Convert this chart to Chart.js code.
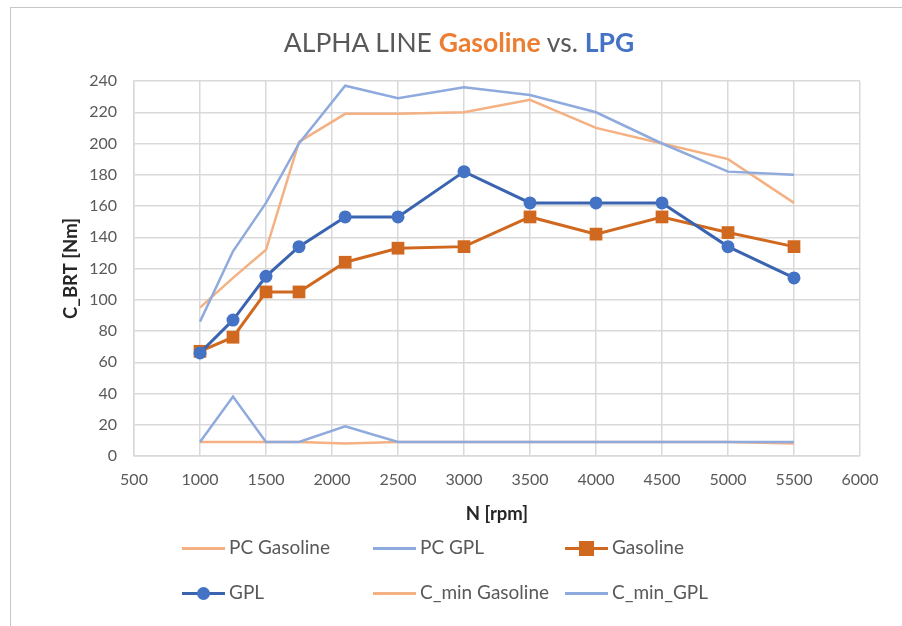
<!DOCTYPE html>
<html>
<head>
<meta charset="utf-8">
<script src="https://cdn.jsdelivr.net/npm/chart.js@4.4.1/dist/chart.umd.min.js"></script>
<style>
  body { margin: 0; background: #fff; font-family: Lato, Calibri, sans-serif; }
  #wrap { position: relative; width: 902px; height: 626px; overflow: hidden; }
  #frame { position: absolute; left: 10px; top: 7px; width: 1000px; height: 700px;
           border-left: 1px solid #c8c8c8; border-top: 1px solid #c8c8c8; }
  #chart { position: absolute; left: 0; top: 0; }
  #title { position: absolute; left: 0; width: 918px; top: 26px; text-align: center;
           font-size: 26.5px; color: #595959; }
  #title .gas { color: #ED7D31; font-weight: bold; }
  #title .lpg { color: #4472C4; font-weight: bold; }
  .leg { position: absolute; height: 22px; font-size: 19px; color: #595959; white-space: nowrap; }
  .leg .line { position: absolute; left: 0; top: 10px; width: 43px; height: 3px; }
  .leg .mark { position: absolute; }
  .leg .txt { position: absolute; left: 47px; top: -1px; line-height: 22px; }
</style>
</head>
<body>
<div id="wrap">
  <div id="frame"></div>
  <canvas id="chart" width="902" height="626"></canvas>
  <div id="title">ALPHA LINE <span class="gas">Gasoline</span> vs. <span class="lpg">LPG</span></div>
  <div id="legend"></div>
</div>
<script>
// engine speed points (rpm)
const rpm = [1000, 1250, 1500, 1750, 2100, 2500, 3000, 3500, 4000, 4500, 5000, 5500];

// torque values [Nm]
const pcGasoline   = [95, 114, 132, 201, 219, 219, 220, 228, 210, 200, 190, 162];
const pcGpl        = [86, 131, 162, 200, 237, 229, 236, 231, 220, 200, 182, 180];
const gasoline     = [67, 76, 105, 105, 124, 133, 134, 153, 142, 153, 143, 134];
const gpl          = [66, 87, 115, 134, 153, 153, 182, 162, 162, 162, 134, 114];
const cminGasoline = [9, 9, 9, 9, 8, 9, 9, 9, 9, 9, 9, 8];
const cminGpl      = [9, 38, 9, 9, 19, 9, 9, 9, 9, 9, 9, 9];

const seriesNames = ['PC Gasoline', 'PC GPL', 'Gasoline', 'GPL', 'C_min Gasoline', 'C_min_GPL'];
const xTicks = [500, 6000, 500]; // min, max, step
const yTicks = [0, 240, 20];

const toPoints = vals => rpm.map((x, i) => ({ x: x, y: vals[i] }));

const styles = [
  { color: '#F4B183', width: 2.5, marker: null },
  { color: '#8FAADC', width: 2.5, marker: null },
  { color: '#D0691F', width: 3, marker: 'rect', markColor: '#D0691F', r: 9 },
  { color: '#3A64B0', width: 3, marker: 'circle', markColor: '#4472C4', r: 6.5 },
  { color: '#F4B183', width: 2.5, marker: null },
  { color: '#8FAADC', width: 2.5, marker: null }
];
const allValues = [pcGasoline, pcGpl, gasoline, gpl, cminGasoline, cminGpl];

const datasets = allValues.map((vals, i) => {
  const s = styles[i];
  return {
    label: seriesNames[i],
    data: toPoints(vals),
    borderColor: s.color,
    borderWidth: s.width,
    backgroundColor: s.markColor || s.color,
    pointStyle: s.marker || 'circle',
    pointRadius: s.marker ? s.r : 0,
    pointBorderWidth: 0,
    pointBackgroundColor: s.markColor || s.color,
    tension: 0,
    order: 10 - i // later series on top, like Excel
  };
});

Chart.defaults.font.family = 'Lato, Calibri, sans-serif';
Chart.defaults.color = '#595959';

new Chart(document.getElementById('chart').getContext('2d'), {
  type: 'line',
  data: { datasets: datasets },
  options: {
    responsive: false,
    animation: false,
    layout: { padding: { left: 0, top: 81, right: 42, bottom: 90 } },
    plugins: { legend: { display: false }, title: { display: false }, tooltip: { enabled: false } },
    scales: {
      x: {
        type: 'linear',
        min: xTicks[0], max: xTicks[1],
        ticks: { stepSize: xTicks[2], padding: 14, font: { size: 16 }, color: '#595959',
                 callback: v => String(v) },
        grid: { color: '#d9d9d9', lineWidth: 1.5, drawTicks: false },
        border: { color: '#d9d9d9', width: 1.5 },
        title: { display: true, text: 'N [rpm]', font: { size: 18.5, weight: 'bold' }, color: '#262626',
                 padding: { top: 0, bottom: 11 } },
        afterFit: scale => { scale.height = 80; }
      },
      y: {
        min: yTicks[0], max: yTicks[1],
        ticks: { stepSize: yTicks[2], padding: 17, font: { size: 16 }, color: '#595959' },
        grid: { color: '#d9d9d9', lineWidth: 1.5, drawTicks: false },
        border: { color: '#d9d9d9', width: 1.5 },
        title: { display: true, text: 'C_BRT [Nm]', font: { size: 18.5, weight: 'bold' }, color: '#262626',
                 padding: { top: 60, bottom: 0 } },
        afterFit: scale => { scale.width = 134; }
      }
    }
  }
});

// legend built from the same series styles
const legendPos = [[182, 537], [373, 537], [565, 537], [182, 582], [373, 582], [565, 582]];
const legend = document.getElementById('legend');
seriesNames.forEach((name, i) => {
  const s = styles[i];
  const item = document.createElement('div');
  item.className = 'leg';
  item.style.left = legendPos[i][0] + 'px';
  item.style.top = legendPos[i][1] + 'px';
  let html = '<div class="line" style="background:' + s.color + '"></div>';
  if (s.marker === 'rect') {
    html += '<div class="mark" style="left:14px;top:4px;width:15px;height:15px;background:' + s.markColor + '"></div>';
  } else if (s.marker === 'circle') {
    html += '<div class="mark" style="left:15px;top:5px;width:13px;height:13px;border-radius:50%;background:' + s.markColor + '"></div>';
  }
  html += '<span class="txt">' + name + '</span>';
  item.innerHTML = html;
  legend.appendChild(item);
});
</script>
</body>
</html>
